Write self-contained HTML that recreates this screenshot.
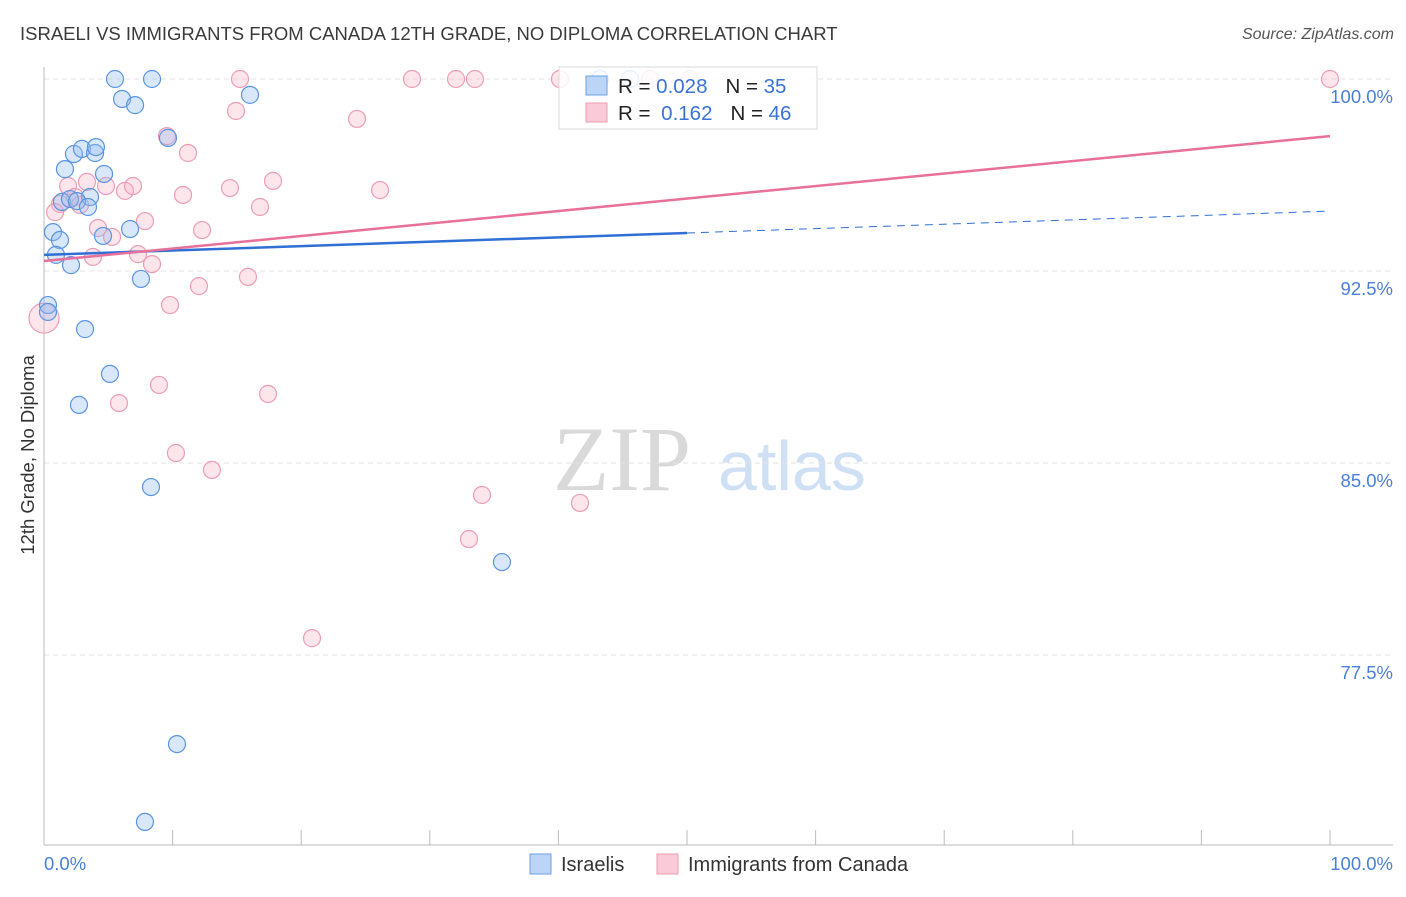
<!DOCTYPE html>
<html><head><meta charset="utf-8">
<style>
html,body{margin:0;padding:0;background:#fff;}
body{width:1406px;height:892px;overflow:hidden;font-family:"Liberation Sans",sans-serif;}
</style></head>
<body>
<svg id="chart" width="1406" height="892" xmlns="http://www.w3.org/2000/svg">
<text x="20" y="40" font-size="18.5" fill="#3a3a3a">ISRAELI VS IMMIGRANTS FROM CANADA 12TH GRADE, NO DIPLOMA CORRELATION CHART</text>
<text x="1394" y="39" font-size="16" fill="#555" font-style="italic" text-anchor="end">Source: ZipAtlas.com</text>
<g>
<text x="553" y="490" font-family="Liberation Serif,serif" font-size="92" fill="#d9d9d9">ZIP</text>
<text x="718" y="490" font-size="70" fill="#cfe0f5">atlas</text>
</g>
<g id="grid"></g>
<g id="axes"></g>
<g id="marks"></g>
<text transform="translate(34,455) rotate(-90)" font-size="18.5" fill="#333" text-anchor="middle">12th Grade, No Diploma</text>
<g>
<rect x="559" y="67" width="258" height="62" fill="rgba(255,255,255,0.85)" stroke="#d8d8d8"/>
<rect x="586" y="76" width="21" height="19" fill="#bcd4f6" stroke="#6a9fe3"/>
<rect x="586" y="103" width="21" height="19" fill="#fbcad8" stroke="#ec9db5"/>
<text x="618" y="93" font-size="20.5" fill="#222">R = <tspan fill="#3b73d4">0.028</tspan><tspan dx="18">N = </tspan><tspan fill="#3b73d4">35</tspan></text>
<text x="618" y="120" font-size="20.5" fill="#222">R = <tspan dx="5" fill="#3b73d4">0.162</tspan><tspan dx="18">N = </tspan><tspan fill="#3b73d4">46</tspan></text>
</g>
<g>
<rect x="530" y="854" width="21" height="20" fill="#bcd4f6" stroke="#6a9fe3"/>
<text x="561" y="871" font-size="20" fill="#333">Israelis</text>
<rect x="657" y="854" width="21" height="20" fill="#fbcad8" stroke="#ec9db5"/>
<text x="688" y="871" font-size="20" fill="#333">Immigrants from Canada</text>
</g>
</svg>
<script>
const yTicks=[100,92.5,85,77.5];
const yTickLabels=["100.0%","92.5%","85.0%","77.5%"];
const xTickLabels=["0.0%","100.0%"];
const israeliX=[5.52,8.40,6.07,7.08,16.02,9.64,1.63,2.33,2.95,3.97,4.04,4.67,1.40,2.02,3.58,2.57,3.42,0.70,1.24,4.59,6.69,0.93,2.10,7.54,0.31,0.31,3.19,5.13,2.72,8.32,35.61,10.34,7.85,43.23,45.57];
const israeliY=[100,100,99.22,98.98,99.38,97.70,96.48,97.07,97.27,97.11,97.34,96.29,95.20,95.31,95.39,95.23,95.00,94.02,93.71,93.87,94.14,93.13,92.73,92.19,91.17,90.90,90.23,88.48,87.27,84.06,81.13,74.02,70.98,100,100];
const canadaX=[15.24,28.62,32.04,33.51,40.12,47.12,50.23,100,14.93,24.34,9.56,11.20,1.87,4.82,3.34,6.30,6.92,10.81,14.46,17.81,26.13,16.80,1.24,2.41,2.80,0.86,7.85,4.20,5.29,12.29,3.81,7.31,8.40,15.86,12.05,9.80,0,8.94,5.83,17.42,10.26,13.06,34.06,41.68,33.05,20.84];
const canadaY=[100,100,100,100,100,100,100,100,98.75,98.44,97.77,97.11,95.82,95.82,95.98,95.63,95.82,95.47,95.74,96.02,95.66,95.00,95.12,95.39,95.08,94.80,94.45,94.18,93.83,94.10,93.05,93.16,92.77,92.27,91.91,91.17,90.66,88.05,87.34,87.70,85.39,84.73,83.75,83.44,82.03,78.16];
const israeliTrend=[93.13,94.84];
const canadaTrend=[92.89,97.77];
const NS="http://www.w3.org/2000/svg";
const X=v=>44+v*12.86;
const Y=v=>79+(100-v)*25.6;
function mk(tag,attrs,parent){const e=document.createElementNS(NS,tag);for(const k in attrs)e.setAttribute(k,attrs[k]);parent.appendChild(e);return e;}
const grid=document.getElementById('grid'),axes=document.getElementById('axes'),marks=document.getElementById('marks');
yTicks.forEach((t,i)=>{
 const l=mk('line',{x1:44,x2:1393,y1:Y(t),y2:Y(t),stroke:'#e2e2e2','stroke-dasharray':'5,4'},grid);
 
 
 const tx=mk('text',{x:1393,y:Y(t)+24,'font-size':18.5,fill:'#4a7fd8','text-anchor':'end'},axes);
 tx.textContent=yTickLabels[i];
 
 
});
let a=mk('line',{x1:44,x2:44,y1:67,y2:845,stroke:'#bbb'},axes);


a=mk('line',{x1:44,x2:1393,y1:845,y2:845,stroke:'#bbb'},axes);


for(let i=0;i<=10;i++){const t=mk('line',{x1:X(i*10),x2:X(i*10),y1:830,y2:845,stroke:'#bbb'},axes);
 
 }
let xl=mk('text',{x:44,y:870,'font-size':18.5,fill:'#4a7fd8'},axes);xl.textContent=xTickLabels[0];


xl=mk('text',{x:1393,y:870,'font-size':18.5,fill:'#4a7fd8','text-anchor':'end'},axes);xl.textContent=xTickLabels[1];


canadaX.forEach((x,i)=>{const c=mk('circle',{cx:X(x),cy:Y(canadaY[i]),r:x===0?15:8.5,fill:'rgba(248,180,200,0.35)',stroke:'#ec9db5','stroke-width':1.2},marks);
 
 });
israeliX.forEach((x,i)=>{const c=mk('circle',{cx:X(x),cy:Y(israeliY[i]),r:8.5,fill:'rgba(147,187,240,0.35)',stroke:'#5b95e0','stroke-width':1.2},marks);
 
 });
const bm=israeliTrend[0]+(israeliTrend[1]-israeliTrend[0])*0.5;
let ln=mk('line',{x1:X(0),y1:Y(israeliTrend[0]),x2:X(50),y2:Y(bm),stroke:'#2f6fd6','stroke-width':2.5},marks);


ln=mk('line',{x1:X(50),y1:Y(bm),x2:X(100),y2:Y(israeliTrend[1]),stroke:'#2f6fd6','stroke-width':1,'stroke-dasharray':'8,6'},marks);


ln=mk('line',{x1:X(0),y1:Y(canadaTrend[0]),x2:X(100),y2:Y(canadaTrend[1]),stroke:'#e8709a','stroke-width':2.5},marks);


</script>
</body></html>
